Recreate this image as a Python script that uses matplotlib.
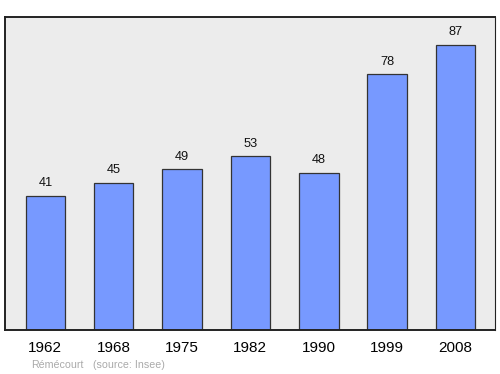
import matplotlib
matplotlib.use("Agg")
import matplotlib.pyplot as plt

plt.rcParams["font.family"] = ["Liberation Sans", "DejaVu Sans"]

# ----------------------
# data
# ----------------------
years = ["1962", "1968", "1975", "1982", "1990", "1999", "2008"]
population = [41, 45, 49, 53, 48, 78, 87]
town = "Rémécourt"
source = "(source: Insee)"

# ----------------------
# figure
# ----------------------
fig = plt.figure(figsize=(5, 3.74), dpi=100)
ax = fig.add_axes([0.01, 0.1176, 0.98, 0.837])
ax.set_facecolor("#ececec")

x = range(len(years))
ax.bar(x, population, width=0.58, color="#7799ff", edgecolor="#333333", linewidth=0.9, zorder=2)

for i, v in enumerate(population):
    ax.annotate(str(v), (i, v), xytext=(0, 7), textcoords="offset points",
                ha="center", va="baseline", fontsize=9.2, color="#111111")

ax.set_xlim(-0.59, 6.58)
ax.set_ylim(0, 95.5)
ax.set_xticks(list(x))
ax.set_xticklabels(years, fontsize=11)
ax.tick_params(axis="x", length=0, pad=8)
ax.set_yticks([])

for side in ["left", "right", "top", "bottom"]:
    ax.spines[side].set_color("#222222")
    ax.spines[side].set_linewidth(1.4)
ax.spines["right"].set_linewidth(0.8)

fig.text(31 / 500, 1 - 368 / 374, town, fontsize=7.7, color="#aaaaaa", va="baseline")
fig.text(93 / 500, 1 - 368 / 374, source, fontsize=7.7, color="#aaaaaa", va="baseline")

plt.savefig("out.png")
